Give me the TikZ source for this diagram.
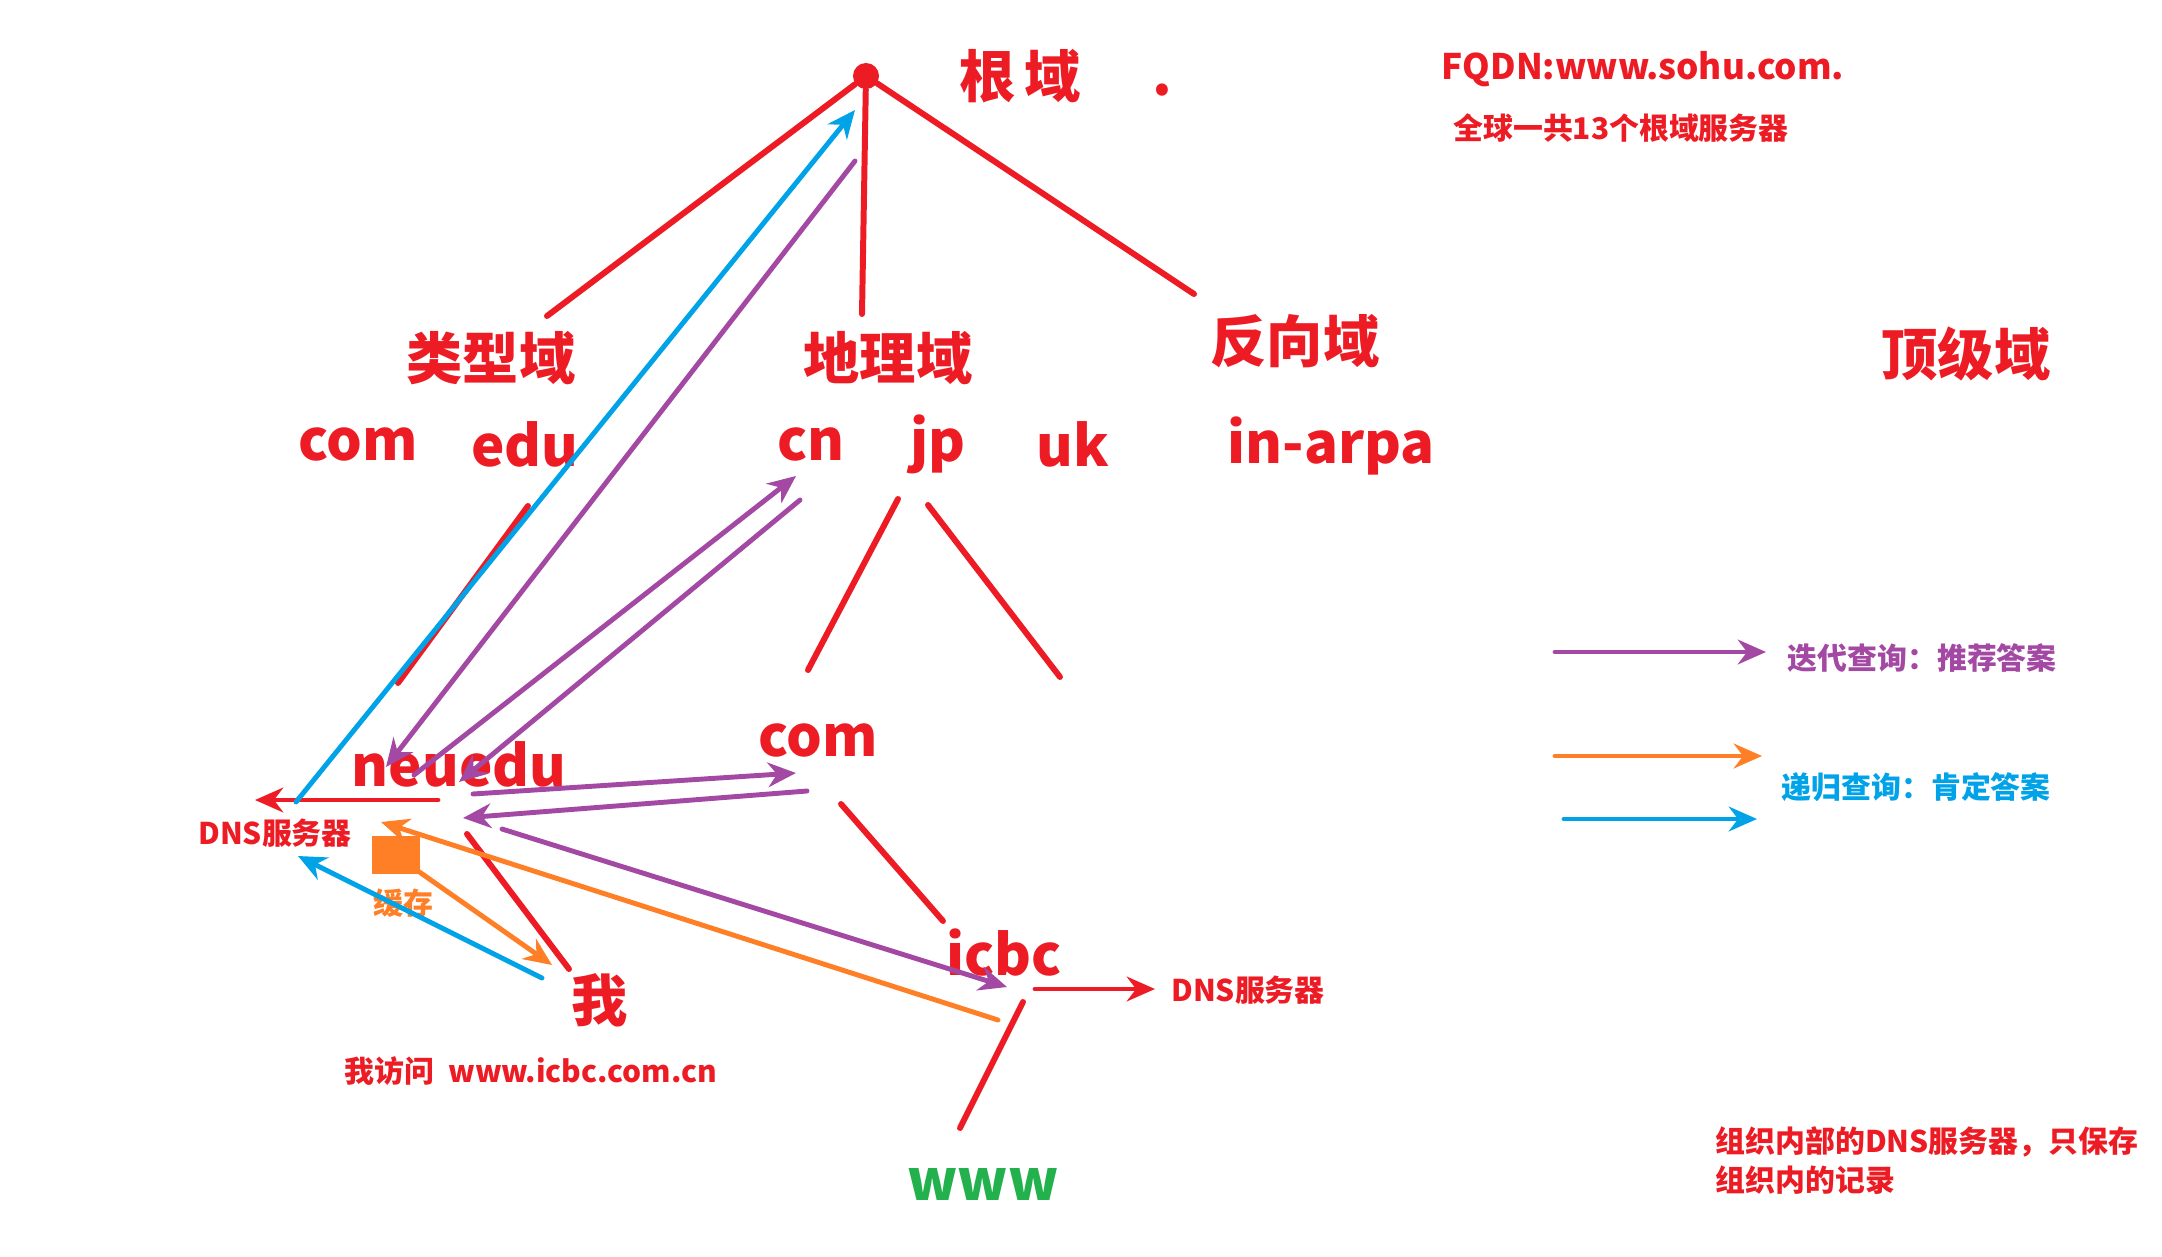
\documentclass[tikz,border=0pt]{standalone}
\usepackage{fontspec}
\setmainfont{Noto Sans CJK SC}
\usepackage{tikz}
\usetikzlibrary{arrows.meta}

\definecolor{treered}{HTML}{ED1C24}
\definecolor{iterpurple}{HTML}{A349A4}
\definecolor{recblue}{HTML}{00A2E8}
\definecolor{cacheorange}{HTML}{FF7F27}
\definecolor{hostgreen}{HTML}{22B14C}

\begin{document}
\begin{tikzpicture}[x=0.01cm,y=-0.01cm]
\useasboundingbox (0,0) rectangle (2162,1257);

\begin{scope}[every node/.style={text=treered,inner sep=0pt,font=\bfseries\fontsize{16}{18}\selectfont}]
    \node[circle,fill=treered,minimum size=0.26cm] (root) at (866,76) {};
    \node (rootlbl) at (1020,76) {根\,域};
    \node (dot) at (1162,90) {.};
    \node (typ) at (491,358) {类型域};
    \node (geo) at (888,358) {地理域};
    \node (rev) at (1295,341) {反向域};
    \node (tld) at (1966,354) {顶级域};
    \node (me) at (600,1000) {我};
\end{scope}

\begin{scope}[every node/.style={text=treered,inner sep=0pt,font=\bfseries\fontsize{16}{18}\selectfont}]
    \node (com) at (358,444) {com};
    \node (edu) at (525,444) {edu};
    \node (cn) at (811,444) {cn};
    \node (jp) at (938,444) {jp};
    \node (uk) at (1073,444) {uk};
    \node (arpa) at (1331,446) {in-arpa};
    \node (neuedu) at (459,764) {neuedu};
    \node (comsub) at (818,740) {com};
    \node (icbc) at (1004,953) {icbc};
    \node[text=hostgreen] (www) at (983,1184) {www};
\end{scope}

\begin{scope}[every node/.style={text=treered,inner sep=0pt,font=\bfseries\fontsize{8.5}{11}\selectfont}]
    \node[font=\bfseries\fontsize{10}{12}\selectfont] (fqdn) at (1643,69) {FQDN:www.sohu.com.};
    \node (roots) at (1621,128) {全球一共13个根域服务器};
    \node (dnsl) at (275,833) {DNS服务器};
    \node (dnsr) at (1248,990) {DNS服务器};
    \node (visit) at (531,1071) {我访问\ \ www.icbc.com.cn};
    \node[text=cacheorange] (cache) at (403,903) {缓存};
    \node[text=iterpurple,anchor=west] (iterlbl) at (1787,658) {迭代查询：推荐答案};
    \node[text=recblue,anchor=west] (reclbl) at (1781,787) {递归查询：肯定答案};
    \node[anchor=north west,align=left] (orgnote) at (1715,1126) {组织内部的DNS服务器，只保存\\组织内的记录};
\end{scope}

\fill[cacheorange] (372,836) rectangle (420,874);

\coordinate (typ-top) at (547,316);
\coordinate (geo-top) at (862,314);
\coordinate (rev-top) at (1194,294);
\coordinate (edu-a) at (528,506);
\coordinate (edu-b) at (398,683);
\coordinate (jp-l) at (898,499);
\coordinate (comsub-top) at (808,670);
\coordinate (jp-r) at (928,505);
\coordinate (jp-sub) at (1060,677);
\coordinate (comsub-bot) at (841,804);
\coordinate (icbc-top) at (943,921);
\coordinate (icbc-bot) at (1023,1002);
\coordinate (www-top) at (960,1128);
\coordinate (neuedu-bot) at (467,834);
\coordinate (me-top) at (569,969);
\coordinate (neuedu-l) at (438,800);
\coordinate (dnsl-top) at (255,800);
\coordinate (icbc-r) at (1035,989);
\coordinate (dnsr-l) at (1155,989);

\begin{scope}[>={Stealth[length=8pt,width=7pt]},
              every edge/.style={draw=treered,line width=1.7pt,line cap=round}]
    \path (root) edge (typ-top);
    \path (root) edge (geo-top);
    \path (root) edge (rev-top);
    \path (edu-a) edge (edu-b);
    \path (jp-l) edge (comsub-top);
    \path (jp-r) edge (jp-sub);
    \path (comsub-bot) edge (icbc-top);
    \path (icbc-bot) edge (www-top);
    \path (neuedu-bot) edge (me-top);
    \path [->] (neuedu-l) edge[line width=1.4pt] (dnsl-top);
    \path [->] (icbc-r) edge[line width=1.4pt] (dnsr-l);
\end{scope}

\coordinate (it1-s) at (855,161);
\coordinate (it1-e) at (386,767);
\coordinate (it2-s) at (414,775);
\coordinate (it2-e) at (796,476);
\coordinate (it3-s) at (800,500);
\coordinate (it3-e) at (459,782);
\coordinate (it4-s) at (473,794);
\coordinate (it4-e) at (796,773);
\coordinate (it5-s) at (807,791);
\coordinate (it5-e) at (463,818);
\coordinate (it6-s) at (502,829);
\coordinate (it6-e) at (1007,987);
\coordinate (rc1-s) at (296,802);
\coordinate (rc1-e) at (855,110);
\coordinate (rc2-s) at (542,978);
\coordinate (rc2-e) at (298,856);
\coordinate (ca1-s) at (998,1020);
\coordinate (ca1-e) at (381,822);
\coordinate (ca2-s) at (418,871);
\coordinate (ca2-e) at (552,965);
\coordinate (key-it-s) at (1555,652);
\coordinate (key-it-e) at (1766,652);
\coordinate (key-ca-s) at (1555,756);
\coordinate (key-ca-e) at (1762,756);
\coordinate (key-rc-s) at (1564,819);
\coordinate (key-rc-e) at (1757,819);

\begin{scope}[>={Stealth[length=8pt,width=7pt]},
              every edge/.style={draw,line width=1.4pt,line cap=round}]
    \path [->,iterpurple] (it1-s) edge (it1-e);
    \path [->,iterpurple] (it2-s) edge (it2-e);
    \path [->,iterpurple] (it3-s) edge (it3-e);
    \path [->,iterpurple] (it4-s) edge (it4-e);
    \path [->,iterpurple] (it5-s) edge (it5-e);
    \path [->,iterpurple] (it6-s) edge (it6-e);
    \path [->,recblue] (rc1-s) edge (rc1-e);
    \path [->,recblue] (rc2-s) edge (rc2-e);
    \path [->,cacheorange] (ca1-s) edge (ca1-e);
    \path [->,cacheorange] (ca2-s) edge (ca2-e);
    \path [->,iterpurple] (key-it-s) edge (key-it-e);
    \path [->,cacheorange] (key-ca-s) edge (key-ca-e);
    \path [->,recblue] (key-rc-s) edge (key-rc-e);
\end{scope}
\end{tikzpicture}
\end{document}
